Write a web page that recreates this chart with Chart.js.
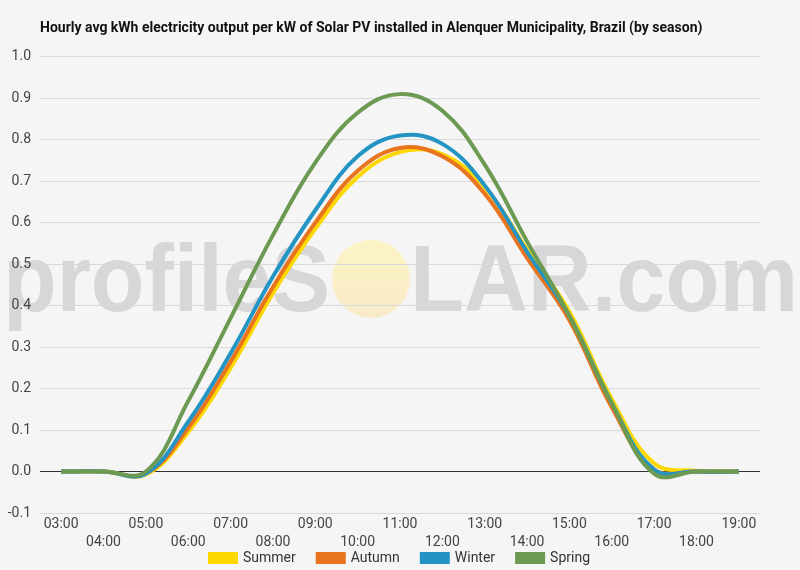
<!DOCTYPE html>
<html>
<head>
<meta charset="utf-8">
<script src="https://cdn.jsdelivr.net/npm/chart.js@4"></script>
<style>
  body { margin: 0; background: #f5f5f5; }
  #wrap { width: 800px; height: 570px; }
</style>
</head>
<body>
<div id="wrap"><canvas id="myChart" width="800" height="570"></canvas></div>
<script>
const hours = ['03:00', '04:00', '05:00', '06:00', '07:00', '08:00', '09:00', '10:00', '11:00',
    '12:00', '13:00', '14:00', '15:00', '16:00', '17:00', '18:00', '19:00'];
const summer = [0, 0, -0.007, 0.095, 0.25, 0.43, 0.585, 0.71, 0.77, 0.765, 0.685, 0.535, 0.385, 0.175, 0.02, 0.002, 0];
const autumn = [0, 0, -0.005, 0.105, 0.265, 0.445, 0.6, 0.725, 0.78, 0.76, 0.67, 0.515, 0.365, 0.155, 0.005, 0, 0];
const winter = [0, 0, -0.005, 0.12, 0.285, 0.47, 0.63, 0.76, 0.81, 0.79, 0.69, 0.53, 0.375, 0.165, 0.005, 0, 0];
const spring = [0, 0, 0, 0.17, 0.37, 0.57, 0.745, 0.865, 0.91, 0.87, 0.74, 0.555, 0.375, 0.165, -0.005, 0, 0];

const watermark = {
    id: 'watermark',
    afterLayout(chart) {
        // line the title up with the plot area
        chart.titleBlock.left = 40;
        // let the second row of hour labels hang into the legend band
        chart.scales.x.bottom = chart.scales.x.top + 42;
        // legend row is centred with its trailing padding, nudge it back
        chart.legend.left += 20;
        chart.legend.right += 20;
    },
    beforeDraw(chart) {
        // profileSOLAR logo behind everything
        const ctx = chart.ctx;
        ctx.save();
        ctx.font = 'bold 95px "Liberation Sans"';
        ctx.textBaseline = 'alphabetic';
        ctx.fillStyle = '#d7d7d7';
        const base = 311;
        const left = 'profileS';
        const right = 'LAR.com';
        const wl = ctx.measureText(left).width;
        ctx.save();
        ctx.translate(3, 0);
        ctx.scale(327 / wl, 1);
        ctx.fillText(left, 0, base);
        ctx.restore();
        const wr = ctx.measureText(right).width;
        ctx.save();
        ctx.translate(410, 0);
        ctx.scale(388 / wr, 1);
        ctx.fillText(right, 0, base);
        ctx.restore();
        const g = ctx.createLinearGradient(0, 240, 0, 318);
        g.addColorStop(0, '#fbf4c4');
        g.addColorStop(1, '#f8eac8');
        ctx.fillStyle = g;
        ctx.beginPath();
        ctx.arc(371, 279, 39, 0, Math.PI * 2);
        ctx.fill();
        ctx.restore();
    }
};

new Chart(document.getElementById('myChart'), {
    type: 'line',
    data: {
        labels: hours,
        datasets: [{
            label: 'Summer',
            data: summer,
            borderColor: '#fdd800',
            backgroundColor: '#fdd800',
            order: 4
        }, {
            label: 'Autumn',
            data: autumn,
            borderColor: '#e8741e',
            backgroundColor: '#e8741e',
            order: 3
        }, {
            label: 'Winter',
            data: winter,
            borderColor: '#2394c4',
            backgroundColor: '#2394c4',
            order: 2
        }, {
            label: 'Spring',
            data: spring,
            borderColor: '#6c9a52',
            backgroundColor: '#6c9a52',
            order: 1
        }]
    },
    options: {
        responsive: false,
        animation: false,
        elements: {
            line: { borderWidth: 4, tension: 0.4 },
            point: { radius: 0 }
        },
        layout: {
            padding: { left: 0, right: 40, top: 0, bottom: -5 }
        },
        scales: {
            x: {
                offset: true,
                grid: { display: false, drawTicks: false },
                border: { display: false },
                afterFit: (s) => { s.height = 16; },
                ticks: {
                    autoSkip: false,
                    maxRotation: 0,
                    padding: 3,
                    color: '#444',
                    font: { family: 'Roboto', size: 14, lineHeight: 1.25 },
                    callback: function (v, i) {
                        return i % 2 === 0 ? hours[i] : ['', hours[i]];
                    }
                }
            },
            y: {
                min: -0.1,
                max: 1.0,
                border: { display: false },
                afterFit: (s) => { s.width = 40; },
                grid: {
                    drawTicks: false,
                    color: (c) => c.tick && Math.abs(c.tick.value) < 1e-9 ? '#333333' : '#d9d9d9'
                },
                ticks: {
                    stepSize: 0.1,
                    padding: 9,
                    color: '#444',
                    font: { family: 'Roboto', size: 14 },
                    callback: (v) => Number(v).toFixed(1)
                }
            }
        },
        plugins: {
            title: {
                display: true,
                align: 'start',
                text: 'Hourly avg kWh electricity output per kW of Solar PV installed in Alenquer Municipality, Brazil (by season)',
                color: '#111',
                font: { family: 'Roboto', size: 14, weight: 'bold' },
                padding: { top: 20, bottom: 20 }
            },
            legend: {
                position: 'bottom',
                labels: {
                    boxWidth: 26,
                    boxHeight: 8,
                    padding: 22,
                    color: '#333',
                    font: { family: 'Roboto', size: 14 },
                    sort: (a, b) => a.datasetIndex - b.datasetIndex
                }
            },
            tooltip: { enabled: false }
        }
    },
    plugins: [watermark]
});
</script>
</body>
</html>
